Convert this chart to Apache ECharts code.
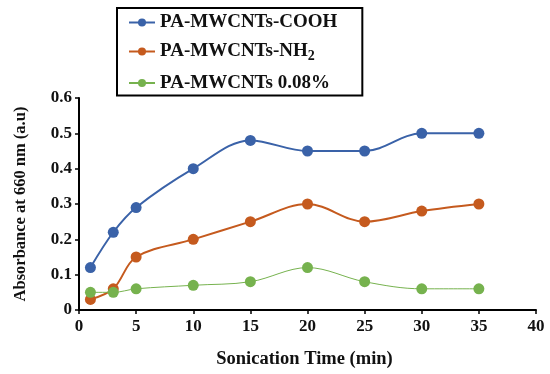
<!DOCTYPE html>
<html><head><meta charset="utf-8">
<script src="https://cdn.jsdelivr.net/npm/echarts@6/dist/echarts.min.js"></script>
<style>html,body{margin:0;padding:0;background:#fff}#c{width:550px;height:374px}</style>
</head><body><div id="c"></div>
<script>
const times = [1, 3, 5, 10, 15, 20, 25, 30, 35];
const seriesNames = ['PA-MWCNTs-COOH', 'PA-MWCNTs-NH2', 'PA-MWCNTs 0.08%'];
const cooh = [0.12, 0.22, 0.29, 0.40, 0.48, 0.45, 0.45, 0.50, 0.50];
const nh2 = [0.03, 0.06, 0.15, 0.20, 0.25, 0.30, 0.25, 0.28, 0.30];
const pure = [0.05, 0.05, 0.06, 0.07, 0.08, 0.12, 0.08, 0.06, 0.06];
const colors = ['#3A62A8', '#C55A1E', '#76B24E'];
const font = '"Liberation Serif","Times New Roman",serif';

function pairs(v){ return times.map((t,i)=>[t, v[i]]); }
function mk(name, data, color, lw){
  return {name, type:'line', smooth:0.35, data:pairs(data), symbol:'circle', symbolSize:11,
    lineStyle:{color, width:lw}, itemStyle:{color}, emphasis:{disabled:true}};
}
const chart = echarts.init(document.getElementById('c'));
chart.setOption({
  animation:false,
  color: colors,
  grid:{left:79, right:14, top:98, bottom:63},
  legend:{
    orient:'vertical', left:117, top:8, width:245,
    borderColor:'#000', borderWidth:2, padding:[5,25,3,11], itemGap:10,
    itemWidth:26, itemHeight:10,
    data: seriesNames,
    formatter: function(n){ return n==='PA-MWCNTs-NH2' ? '{a|PA-MWCNTs-NH}{s|2}' : '{a|'+n+'}'; },
    textStyle:{fontFamily:font, fontWeight:'bold', fontSize:19, color:'#111',
      rich:{a:{fontFamily:font, fontWeight:'bold', fontSize:19, color:'#111', height:20},
            s:{fontFamily:font, fontWeight:'bold', fontSize:14, color:'#111', verticalAlign:'bottom', padding:[10,0,0,0]}}}
  },
  xAxis:{type:'value', min:0, max:40, interval:5,
    name:'Sonication Time (min)', nameLocation:'middle', nameGap:40,
    nameTextStyle:{fontFamily:font, fontWeight:'bold', fontSize:18.5, color:'#111', padding:[0,6,0,0]},
    axisLine:{lineStyle:{color:'#000', width:2}},
    axisTick:{show:true, lineStyle:{color:'#000', width:1.5}, length:4},
    axisLabel:{fontFamily:font, fontWeight:'bold', fontSize:17, color:'#111', margin:8},
    splitLine:{show:false}},
  yAxis:{type:'value', min:0, max:0.6, interval:0.1,
    name:'Absorbance at 660 nm (a.u)', nameLocation:'middle', nameGap:50, nameRotate:90,
    nameTextStyle:{fontFamily:font, fontWeight:'bold', fontSize:16.5, color:'#111'},
    axisLine:{show:true, lineStyle:{color:'#000', width:2}},
    axisTick:{show:true, lineStyle:{color:'#000', width:1.5}, length:4},
    axisLabel:{fontFamily:font, fontWeight:'bold', fontSize:17, color:'#111', margin:7,
      formatter:function(v){ return v===0 ? '0' : String(+v.toFixed(1)); }},
    splitLine:{show:false}},
  series:[
    mk(seriesNames[0], cooh, colors[0], 2),
    mk(seriesNames[1], nh2, colors[1], 2),
    mk(seriesNames[2], pure, colors[2], 1)
  ]
});
</script></body></html>
